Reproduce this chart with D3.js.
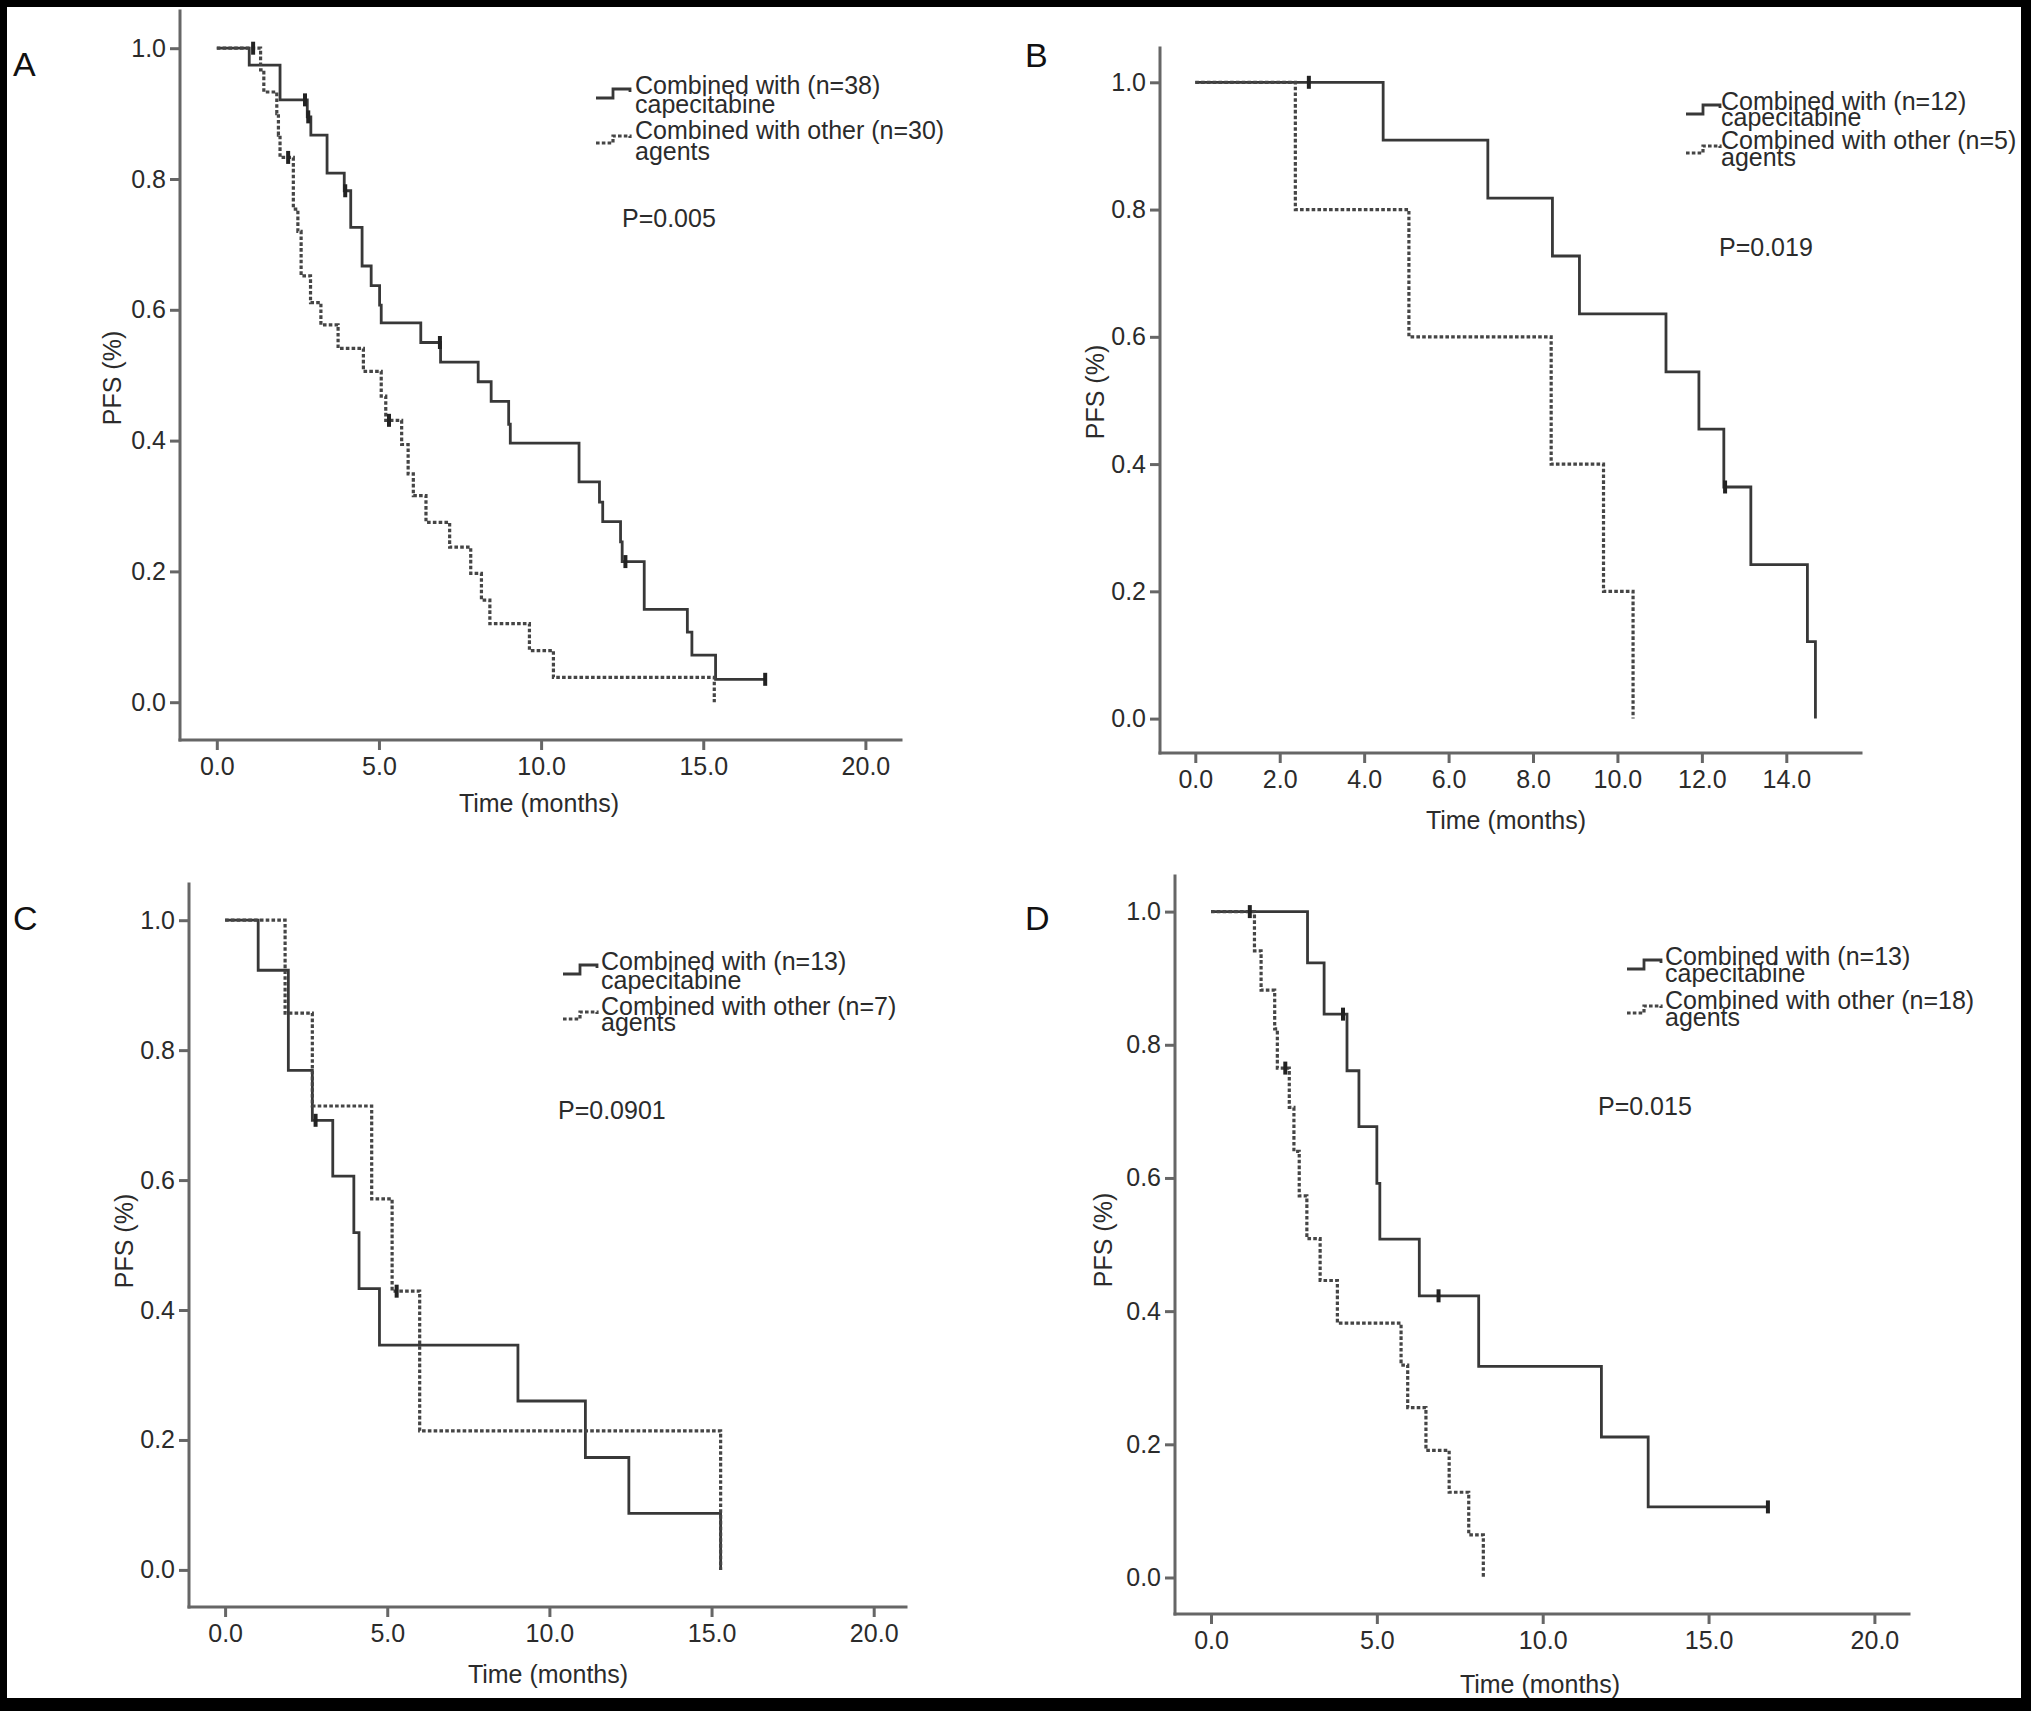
<!DOCTYPE html>
<html>
<head>
<meta charset="UTF-8">
<title>PFS curves</title>
<script src="https://cdn.jsdelivr.net/npm/d3@7"></script>
<style>
    body{margin:0;background:#000;}
    svg{display:block;}
    text{font-family:"Liberation Sans",Arial,sans-serif;fill:#2b2b2b;}
    .curve{fill:none;stroke:#383838;stroke-width:2.8px;}
    .dash{stroke:#454545;stroke-width:3.2px;stroke-dasharray:3.6,2.2;}
    .cens{stroke:#222;stroke-width:4px;}
    .axisline{stroke:#666;stroke-width:3px;stroke-linecap:square;}
    .tick line{stroke:#666;stroke-width:3px;}
</style>
</head>
<body>
<svg id="fig" width="2031" height="1711"></svg>
<script>
    // ticks
    var yTicks=[0,0.2,0.4,0.6,0.8,1.0];
    var xTicks20=[0,5,10,15,20];
    var xTicks14=[0,2,4,6,8,10,12,14];

    // A
    var aCapeT=[1.0,1.95,2.79,2.9,3.4,3.93,4.13,4.48,4.76,5.02,5.07,6.29,6.9,8.06,8.46,9.0,9.05,11.17,11.8,11.9,12.45,12.5,13.18,14.51,14.65,15.38];
    var aCapeS=[0.974,0.921,0.895,0.867,0.809,0.782,0.726,0.667,0.637,0.607,0.58,0.55,0.52,0.49,0.46,0.425,0.396,0.337,0.306,0.276,0.245,0.215,0.142,0.107,0.072,0.035];
    var aCapeCens=[2.72,2.82,3.96,6.88,12.6,16.91];
    var aOtherT=[1.35,1.45,1.85,1.9,1.95,2.36,2.5,2.6,2.89,3.21,3.74,4.52,5.07,5.21,5.7,5.9,6.06,6.45,7.18,7.83,8.16,8.42,9.64,10.38,15.34];
    var aOtherS=[0.967,0.933,0.9,0.867,0.833,0.754,0.72,0.652,0.611,0.577,0.541,0.506,0.468,0.431,0.394,0.349,0.316,0.275,0.237,0.197,0.156,0.12,0.079,0.038,0];
    var aOtherCens=[1.12,2.2,5.31];

    // B
    var bCapeT=[4.45,6.93,8.46,9.1,11.15,11.93,12.52,13.16,14.5,14.69];
    var bCapeS=[0.909,0.818,0.727,0.636,0.545,0.455,0.364,0.242,0.121,0];
    var bCapeCens=[2.69,12.55];
    var bOtherT=[2.37,5.06,8.43,9.67,10.37];
    var bOtherS=[0.8,0.6,0.4,0.2,0];
    var bOtherCens=[];

    // C
    var cCapeT=[1.02,1.95,2.69,3.32,3.97,4.13,4.76,9.03,11.11,12.45,15.28];
    var cCapeS=[0.923,0.769,0.692,0.606,0.519,0.433,0.346,0.26,0.173,0.087,0];
    var cCapeCens=[2.79];
    var cOtherT=[1.85,2.69,4.52,5.15,6.0,15.28];
    var cOtherS=[0.857,0.714,0.571,0.429,0.214,0];
    var cOtherCens=[5.29];

    // D
    var dCapeT=[2.91,3.41,4.1,4.46,5.0,5.09,6.28,8.07,11.77,13.18];
    var dCapeS=[0.923,0.846,0.761,0.677,0.592,0.508,0.423,0.317,0.211,0.106];
    var dCapeCens=[3.98,6.86,16.79];
    var dOtherT=[1.31,1.51,1.92,2.0,2.36,2.5,2.66,2.89,3.29,3.81,5.73,5.93,6.48,7.18,7.77,8.21];
    var dOtherS=[0.941,0.882,0.824,0.765,0.706,0.64,0.573,0.509,0.446,0.382,0.319,0.255,0.191,0.128,0.064,0];
    var dOtherCens=[1.17,2.24];

    var letters=['A','B','C','D'];
    var nCape=[38,12,13,13];
    var nOther=[30,5,7,18];
    var pValues=['P=0.005','P=0.019','P=0.0901','P=0.015'];

    var panels=[
        {cape:[aCapeT,aCapeS,aCapeCens],other:[aOtherT,aOtherS,aOtherCens],xTicks:xTicks20,xmax:20,
         ax:180,top:11,bot:740,right:901,x0:216.8,x1:865.4,y0:702.2,y1:48.2,
         let:[13,76],leg:[596,635,94,113,139,160],p:[622,227],tx:[539,812],py:[112,378]},
        {cape:[bCapeT,bCapeS,bCapeCens],other:[bOtherT,bOtherS,bOtherCens],xTicks:xTicks14,xmax:14,
         ax:1160,top:48,bot:753,right:1861,x0:1195.3,x1:1786.3,y0:718.6,y1:82.3,
         let:[1025,67],leg:[1686,1721,110,126,149,166],p:[1719,256],tx:[1506,829],py:[1095,392]},
        {cape:[cCapeT,cCapeS,cCapeCens],other:[cOtherT,cOtherS,cOtherCens],xTicks:xTicks20,xmax:20,
         ax:189,top:884,bot:1607,right:906,x0:225.1,x1:873.7,y0:1569.9,y1:920.2,
         let:[13,930],leg:[563,601,970,989,1015,1031],p:[558,1119],tx:[548,1683],py:[124,1241]},
        {cape:[dCapeT,dCapeS,dCapeCens],other:[dOtherT,dOtherS,dOtherCens],xTicks:xTicks20,xmax:20,
         ax:1175,top:876,bot:1614,right:1909,x0:1211,x1:1874.4,y0:1577.5,y1:911.6,
         let:[1025,930],leg:[1627,1665,965,982,1009,1026],p:[1598,1115],tx:[1540,1693],py:[1103,1240]}
    ];

    var svg=d3.select('#fig');
    svg.append('rect').attr('width',2031).attr('height',1711).attr('fill','#000');
    svg.append('rect').attr('x',7).attr('y',7).attr('width',2014).attr('height',1691).attr('fill','#fff');
    var fig=svg.append('g');

    function survAt(times,surv,t){
        var s=1;
        for(var i=0;i<times.length;i++){ if(times[i]<=t) s=surv[i]; }
        return s;
    }

    function drawCurve(g,x,y,arr,cls){
        var times=arr[0],surv=arr[1],cens=arr[2];
        var pts=[[0,1]];
        times.forEach(function(t,i){ pts.push([t,surv[i]]); });
        var lastC=cens.length?d3.max(cens):0;
        if(lastC>times[times.length-1]) pts.push([lastC,surv[surv.length-1]]);
        var line=d3.line().curve(d3.curveStepAfter)
                .x(function(d){return x(d[0]);})
                .y(function(d){return y(d[1]);});
        g.append('path').datum(pts).attr('class','curve '+cls).attr('d',line);
        g.selectAll('line.c'+cls).data(cens).enter().append('line')
                .attr('class','cens')
                .attr('x1',function(d){return x(d);}).attr('x2',function(d){return x(d);})
                .attr('y1',function(d){return y(survAt(times,surv,d))-6.5;})
                .attr('y2',function(d){return y(survAt(times,surv,d))+6.5;});
    }

    panels.forEach(function(p,i){
        var g=fig.append('g');
        var x=d3.scaleLinear().domain([0,p.xmax]).range([p.x0,p.x1]);
        var y=d3.scaleLinear().domain([0,1]).range([p.y0,p.y1]);

        var gy=g.append('g').attr('transform','translate('+p.ax+',0)')
                .call(d3.axisLeft(y).tickValues(yTicks).tickFormat(d3.format('.1f')).tickSize(10).tickPadding(4));
        var gx=g.append('g').attr('transform','translate(0,'+p.bot+')')
                .call(d3.axisBottom(x).tickValues(p.xTicks).tickFormat(d3.format('.1f')).tickSize(10).tickPadding(7));
        [gy,gx].forEach(function(a){
            a.select('.domain').remove();
            a.attr('font-size',25).attr('font-family','"Liberation Sans",Arial,sans-serif').attr('color','#2b2b2b');
        });

        g.append('line').attr('class','axisline').attr('x1',p.ax).attr('x2',p.ax).attr('y1',p.top).attr('y2',p.bot);
        g.append('line').attr('class','axisline').attr('x1',p.ax).attr('x2',p.right).attr('y1',p.bot).attr('y2',p.bot);

        drawCurve(g,x,y,p.cape,'solid');
        drawCurve(g,x,y,p.other,'dash');

        g.append('text').attr('x',p.let[0]).attr('y',p.let[1]).attr('font-size',34).style('fill','#111').text(letters[i]);

        g.append('text').attr('x',p.tx[0]).attr('y',p.tx[1]).attr('text-anchor','middle').attr('font-size',25).text('Time (months)');
        g.append('text').attr('transform','translate('+p.py[0]+','+p.py[1]+') rotate(-90)')
                .attr('text-anchor','middle').attr('dominant-baseline','central').attr('font-size',25).text('PFS (%)');

        // legend
        var L=p.leg, sx=L[0];
        g.append('path').attr('class','curve solid')
                .attr('d','M'+sx+','+(L[2]+4)+'H'+(sx+17)+'V'+(L[2]-5)+'H'+(sx+34)+'V'+(L[2]-2));
        g.append('path').attr('class','curve dash')
                .attr('d','M'+sx+','+(L[4]+4)+'H'+(sx+17)+'V'+(L[4]-3)+'H'+(sx+34)+'V'+(L[4]-1));
        var legText=['Combined with (n='+nCape[i]+')','capecitabine','Combined with other (n='+nOther[i]+')','agents'];
        legText.forEach(function(t,k){
            g.append('text').attr('x',L[1]).attr('y',L[2+k]).attr('font-size',25).text(t);
        });

        g.append('text').attr('x',p.p[0]).attr('y',p.p[1]).attr('font-size',25).text(pValues[i]);
    });

    // frame edge drawn over the content, as in the source image
    svg.append('rect').attr('x',2021).attr('y',0).attr('width',10).attr('height',1711).attr('fill','#000');
    svg.append('rect').attr('x',0).attr('y',1698).attr('width',2031).attr('height',13).attr('fill','#000');
</script>
</body>
</html>
